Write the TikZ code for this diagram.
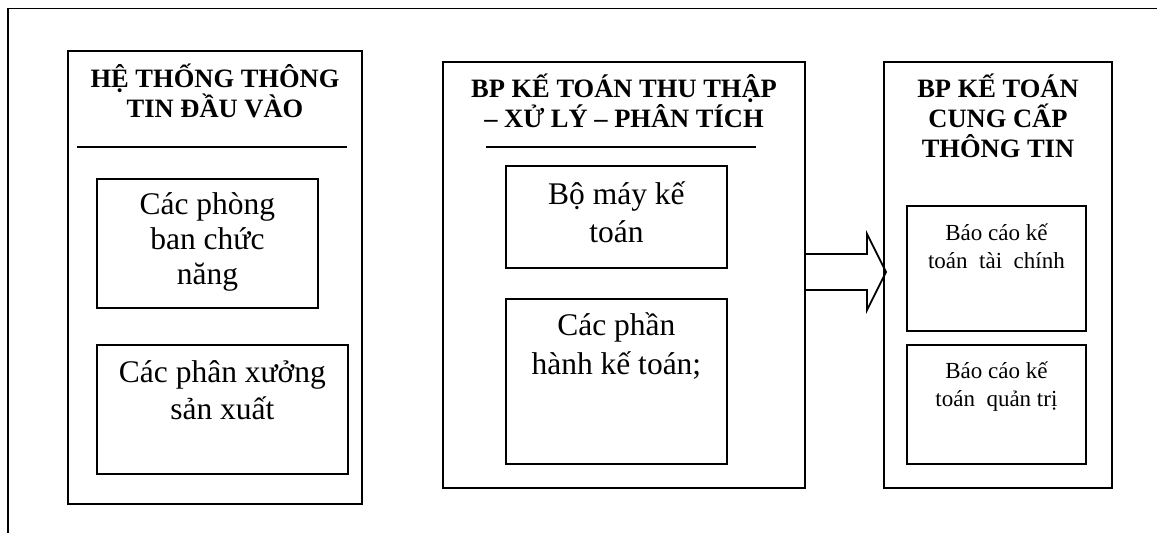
\documentclass[tikz,border=0pt]{standalone}
\usepackage{fontspec}
\setmainfont{Liberation Serif}
\usetikzlibrary{positioning,calc}
\tikzstyle{khoi}=[draw, line width=2pt, anchor=north west, inner sep=0pt]
\tikzstyle{hop}=[khoi, line width=1.8pt]
\tikzstyle{tieude}=[anchor=base, align=center, inner sep=0pt,
font=\bfseries\fontsize{26.5}{30}\selectfont]
\tikzstyle{chu}=[anchor=base, align=center, inner sep=0pt,
font=\fontsize{31.5}{37}\selectfont]
\tikzstyle{chunho}=[chu, font=\fontsize{23}{28.5}\selectfont]
\tikzstyle{gach}=[draw, line width=1.8pt]
\tikzstyle{line}=[draw, line width=1.8pt]
\newcommand{\khoi}[4]{node (#1)[khoi, minimum width=#2pt, minimum height=#3pt]{#4}}
\newcommand{\hop}[4]{node (#1)[hop, minimum width=#2pt, minimum height=#3pt]{#4}}

\begin{document}
\begin{tikzpicture}[x=1pt,y=-1pt]
	\useasboundingbox (0,0) rectangle (1157,533);
	% outer frame (top and left side only)
	\draw[line width=1.5pt] (8,533) -- (8,8.5) -- (1157,8.5);

	% Draw diagram elements
	\path (67,50) \khoi{a}{294}{453}{};
	\path (442,61) \khoi{b}{362}{426}{};
	\path (883,61) \khoi{c}{228}{426}{};

	% base anchor sits on the last line of each text
	\node[tieude, yshift=-67pt] (at) at (a.north) {HỆ THỐNG THÔNG\\TIN ĐẦU VÀO};
	\node[tieude, yshift=-66pt] (bt) at (b.north) {BP KẾ TOÁN THU THẬP\\– XỬ LÝ – PHÂN TÍCH};
	\node[tieude, yshift=-96pt] (ct) at (c.north) {BP KẾ TOÁN\\CUNG CẤP\\THÔNG TIN};

	\draw[gach] (a.north west) ++(10,97) -- ++(270,0);
	\draw[gach] (b.north west) ++(44,86) -- ++(270,0);

	\path (96,178) \hop{a1}{221}{129}{};
	\path (96,344) \hop{a2}{251}{129}{};
	\path (505,165) \hop{b1}{221}{102}{};
	\path (505,298) \hop{b2}{221}{165}{};
	\path (906,205) \hop{c1}{179}{125}{};
	\path (906,344) \hop{c2}{179}{119}{};

	\node[chu, yshift=-106pt, font=\fontsize{31.5}{35}\selectfont] (a1t) at (a1.north) {Các phòng\\ban chức\\năng};
	\node[chu, yshift=-75pt] (a2t) at (a2.north) {Các phân xưởng\\sản xuất};
	\node[chu, yshift=-77pt, font=\fontsize{31.5}{38}\selectfont] (b1t) at (b1.north) {Bộ máy kế\\toán};
	\node[chu, yshift=-76pt, font=\fontsize{31.5}{39}\selectfont] (b2t) at (b2.north) {Các phần\\hành kế toán;};
	\node[chunho, yshift=-63.5pt] (c1t) at (c1.north) {Báo cáo kế\\toán~ tài~ chính};
	\node[chunho, yshift=-62.5pt] (c2t) at (c2.north) {Báo cáo kế\\toán~ quản trị};

	% Draw arrows between elements
	\path[line] ($(b.east)+(0,-21)$) -- ($(c.west)+(-16,-21)$) -- ($(c.west)+(-16,-41)$)
		-- ($(c.west)+(3,-3)$) -- ($(c.west)+(-16,35)$) -- ($(c.west)+(-16,15)$) -- ($(b.east)+(0,15)$);
\end{tikzpicture}
\end{document}
